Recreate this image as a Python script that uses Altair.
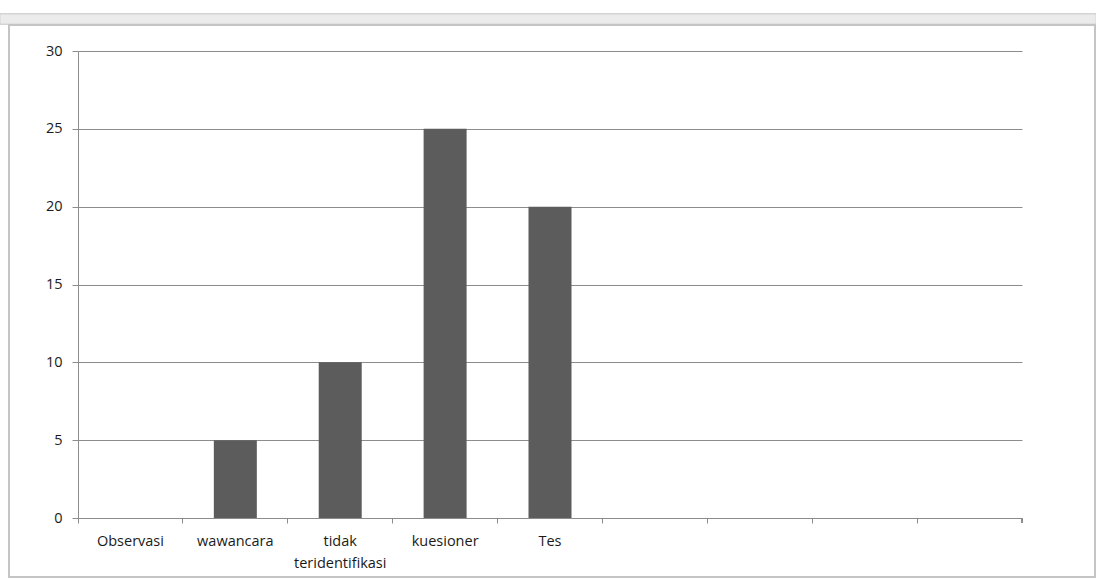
import altair as alt
import pandas as pd

# Categories on the x axis (the last four are unnamed, empty slots)
categories = ["Observasi", "wawancara", "tidak\nteridentifikasi", "kuesioner", "Tes",
              "_6", "_7", "_8", "_9"]
values = [0, 5, 10, 25, 20, None, None, None, None]
y_ticks = [0, 5, 10, 15, 20, 25, 30]

df = pd.DataFrame({"kategori": categories, "jumlah": values})

W, H = 944, 467
GRID = "#8c8c8c"
FONT = "Open Sans"

x_enc = alt.X(
    "kategori:N",
    sort=categories,
    scale=alt.Scale(domain=categories, paddingInner=0, paddingOuter=0),
    axis=alt.Axis(
        title=None,
        bandPosition=0,
        labelExpr="indexof(datum.value, '_') == 0 ? '' : split(datum.value, '\\n')",
        labelAngle=0,
        labelAlign="center",
        labelBaseline="top",
        labelPadding=11,
        labelLineHeight=22,
        labelFont=FONT,
        labelFontSize=14.5,
        labelColor="#1a1a1a",
        tickSize=5,
        tickColor=GRID,
        domainColor=GRID,
        grid=False,
    ),
)

y_enc = alt.Y(
    "jumlah:Q",
    scale=alt.Scale(domain=[0, 30], nice=False),
    axis=alt.Axis(
        title=None,
        values=y_ticks,
        tickSize=6,
        tickColor=GRID,
        domainColor=GRID,
        gridColor=GRID,
        gridWidth=1,
        labelPadding=10,
        labelFont=FONT,
        labelFontSize=14.5,
        labelColor="#1a1a1a",
    ),
)

bars = alt.Chart(df).mark_bar(color="#5c5c5c", size=43).encode(x=x_enc, y=y_enc)

# closing tick at the right end of the category axis
end_tick = alt.Chart(df).mark_rule(color=GRID).encode(
    x=alt.value(W), y=alt.value(H), y2=alt.value(H + 5)
)

# surrounding frame and title strip of the chart object
frame = alt.Chart(df).mark_rect(fill=None, stroke="#c4c4c4", strokeWidth=1.5, clip=False).encode(
    x=alt.value(-69), x2=alt.value(1017), y=alt.value(-26), y2=alt.value(526)
)
strip = alt.Chart(df).mark_rect(fill="#ebebeb", stroke="#d4d4d4", clip=False).encode(
    x=alt.value(-78), x2=alt.value(1018), y=alt.value(-37), y2=alt.value(-27)
)

chart = (
    alt.layer(strip, frame, bars, end_tick)
    .properties(
        width=W,
        height=H,
        autosize=alt.AutoSizeParams(type="none"),
        padding={"left": 78, "top": 51, "right": 74, "bottom": 61},
        background="white",
    )
    .configure_view(stroke=None)
)

chart.save("out.html", embed_options={"renderer": "svg", "actions": False})
